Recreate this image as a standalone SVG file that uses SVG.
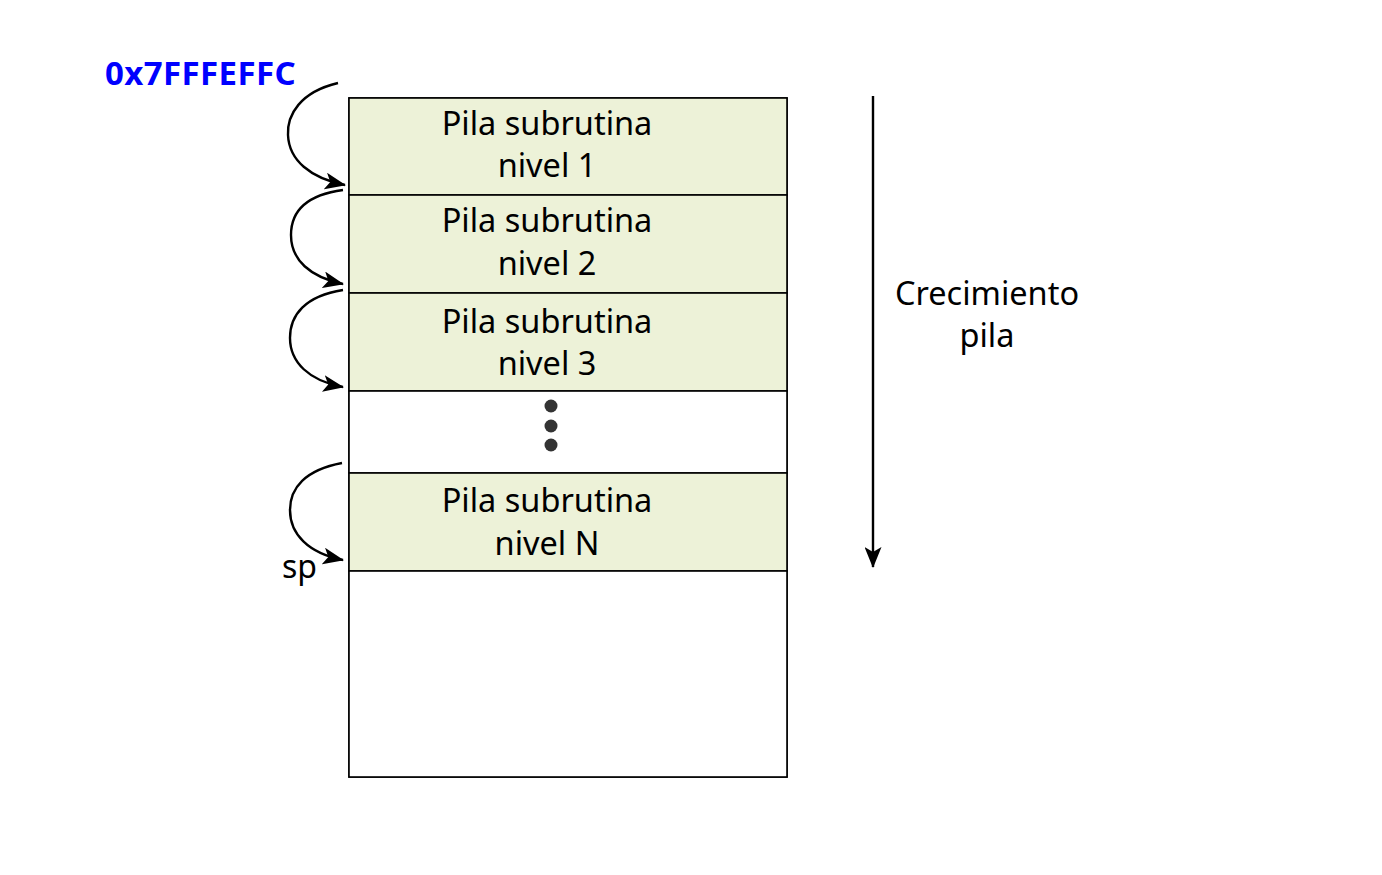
<svg xmlns="http://www.w3.org/2000/svg" width="1382" height="875" viewBox="0 0 1382 875">
<style>
.cell{fill:#EDF2D8;stroke:#000;stroke-width:1.6}
.empty{fill:#fff;stroke:#000;stroke-width:1.6}
.t{font-family:"Noto Sans","Open Sans",sans-serif;font-size:32.5px;fill:#000;text-anchor:middle}
.c{fill:none;stroke:#000;stroke-width:2.4}
.dot{fill:#333}
</style>
<defs>
<marker id="ah" viewBox="0 0 21 17" refX="20" refY="8.5" markerWidth="21" markerHeight="17" markerUnits="userSpaceOnUse" orient="auto">
<path d="M0,0 L21,8.5 L0,17 L5,8.5 Z" fill="#000"/>
</marker>
</defs>
<rect x="0" y="0" width="1382" height="875" fill="#fff"/>
<g id="frame"><rect class="empty" x="349" y="98" width="438" height="679"/></g>
<g id="n1"><rect class="cell" x="349" y="98" width="438" height="97"/><text class="t" x="547" y="135">Pila subrutina</text><text class="t" x="547" y="177">nivel 1</text></g>
<g id="n2"><rect class="cell" x="349" y="195" width="438" height="98"/><text class="t" x="547" y="232">Pila subrutina</text><text class="t" x="547" y="275">nivel 2</text></g>
<g id="n3"><rect class="cell" x="349" y="293" width="438" height="98"/><text class="t" x="547" y="333">Pila subrutina</text><text class="t" x="547" y="375">nivel 3</text></g>
<g id="dots"><rect class="empty" x="349" y="391" width="438" height="82"/><circle class="dot" cx="551" cy="406" r="6.5"/><circle class="dot" cx="551" cy="426" r="6.5"/><circle class="dot" cx="551" cy="445" r="6.5"/></g>
<g id="nN"><rect class="cell" x="349" y="473" width="438" height="98"/><text class="t" x="547" y="512">Pila subrutina</text><text class="t" x="547" y="555">nivel N</text></g>
<g id="rest"><rect class="empty" x="349" y="571" width="438" height="206"/></g>
<g id="addr"><text x="105" y="85" font-family="Noto Sans,sans-serif" font-size="33" font-weight="bold" letter-spacing="0.4" fill="#0000FF">0x7FFFEFFC</text></g>
<g id="sp"><text x="282" y="578" font-family="Noto Sans,sans-serif" font-size="32" fill="#000">sp</text></g>
<g id="growth"><text class="t" x="987" y="305">Crecimiento</text><text class="t" x="987" y="347">pila</text></g>
<g id="connectors">
<path class="c" d="M338,83 C300,92 287,115 288,135 C289,160 310,178 345,185" marker-end="url(#ah)"/>
<path class="c" d="M343,190 C306,195 291,212 291,235 C291,260 310,277 343,284" marker-end="url(#ah)"/>
<path class="c" d="M343,290 C305,296 290,315 290,338 C290,362 309,381 343,387" marker-end="url(#ah)"/>
<path class="c" d="M342,463 C305,470 290,488 290,510 C290,534 308,553 343,560" marker-end="url(#ah)"/>
<line class="c" x1="873" y1="96" x2="873" y2="567" stroke-width="2" marker-end="url(#ah)"/>
</g>
</svg>
